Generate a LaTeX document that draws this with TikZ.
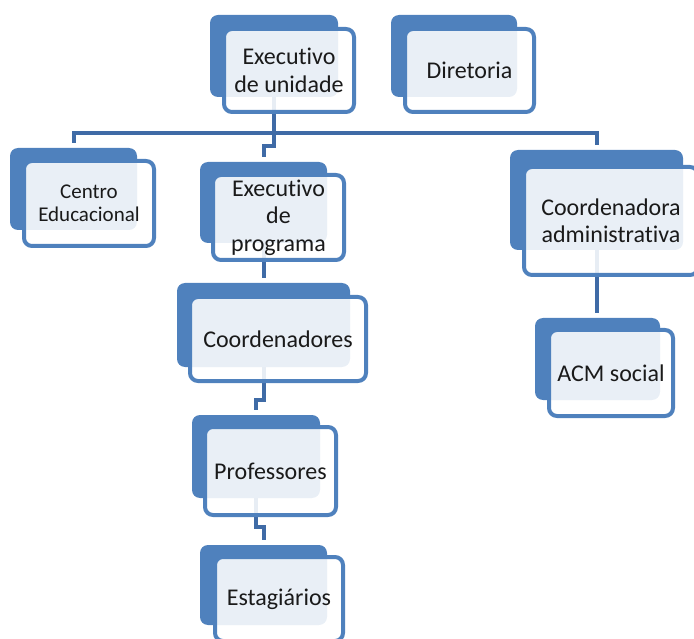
\documentclass[tikz,border=0pt]{standalone}
\usepackage{fontspec}
\setmainfont{Carlito}[Ligatures=NoCommon]
\definecolor{boxblue}{HTML}{4F81BD}
\definecolor{linkblue}{HTML}{3F6BA6}
\definecolor{ink}{HTML}{1A1A1A}
\tikzset{
  backbox/.style={fill=boxblue, draw=none, rounded corners=8pt, inner sep=0pt},
  frontbox/.style={draw=boxblue, line width=4pt, fill=white, fill opacity=0.88,
    text opacity=1, text=ink, rounded corners=8pt, inner sep=0pt, align=center,
    font=\fontsize{24}{27.5}\selectfont},
  smalltext/.style={font=\fontsize{21}{23.5}\selectfont},
  conn/.style={draw=linkblue, line width=4pt},
}
\begin{document}
\begin{tikzpicture}[x=1pt, y=-1pt]
\useasboundingbox (0,0) rectangle (694,639);
\clip (0,0) rectangle (694,639);

% back plates (shadow rectangles)
\node[backbox, minimum width=128pt, minimum height=82pt] (eub)  at (274,56) {};
\node[backbox, minimum width=126pt, minimum height=82pt] (dirb) at (454,56) {};
\node[backbox, minimum width=127pt, minimum height=82pt] (ceb)  at (73.5,189) {};
\node[backbox, minimum width=127pt, minimum height=81pt] (epb)  at (263.5,202.5) {};
\node[backbox, minimum width=173pt, minimum height=100pt] (cab) at (596.5,200) {};
\node[backbox, minimum width=125pt, minimum height=82pt] (acmb) at (597.5,359) {};
\node[backbox, minimum width=173pt, minimum height=84pt] (cob)  at (263.5,325) {};
\node[backbox, minimum width=128pt, minimum height=83pt] (prb)  at (256,456.5) {};
\node[backbox, minimum width=127pt, minimum height=80pt] (esb)  at (263.5,585) {};

% bend points of the connectors
\coordinate (busy) at (0,133);
\coordinate (k1) at (0,146);
\coordinate (k2) at (0,400);
\coordinate (k3) at (0,527);

% connectors
\draw[conn] (eub.south) -- (eub.south |- busy);
\draw[conn] ([yshift=5pt]ceb.north) -- (ceb.north |- busy) -- (cab.north |- busy) -- ([yshift=5pt]cab.north);
\draw[conn] (eub.south |- busy) -- (eub.south |- k1) -| ([yshift=5pt]epb.north);
\draw[conn] (epb.south) -- ([yshift=5pt]cob.north);
\draw[conn] (cab.south) -- ([yshift=5pt]cab.south |- acmb.north);
\draw[conn] (cob.south) -- (cob.south |- k2) -| ([yshift=5pt]prb.north);
\draw[conn] (prb.south) -- (prb.south |- k3) -| ([yshift=5pt]esb.north);

% front boxes with the labels
\node[frontbox, minimum width=130pt, minimum height=83pt] (eu)  at (289,70.5) {Executivo\\de unidade};
\node[frontbox, minimum width=129pt, minimum height=83pt] (dir) at (469.5,70.5) {Diretoria};
\node[frontbox, smalltext, minimum width=130pt, minimum height=85pt] (ce) at (89,203.5) {Centro\\Educacional};
\node[frontbox, minimum width=131pt, minimum height=85pt] (ep)  at (278.5,217.5) {Executivo\\de\\programa};
\node[frontbox, minimum width=174pt, minimum height=108pt] (ca) at (611,221) {Coordenadora\\administrativa};
\node[frontbox, minimum width=124pt, minimum height=86pt] (acm) at (611,373) {ACM social};
\node[frontbox, minimum width=176pt, minimum height=84pt] (co)  at (278,339) {Coordenadores};
\node[frontbox, minimum width=131pt, minimum height=88pt] (pr)  at (270.5,471) {Professores};
\node[frontbox, minimum width=128pt, minimum height=84pt] (es)  at (279,599) {Estagiários};
\end{tikzpicture}
\end{document}
